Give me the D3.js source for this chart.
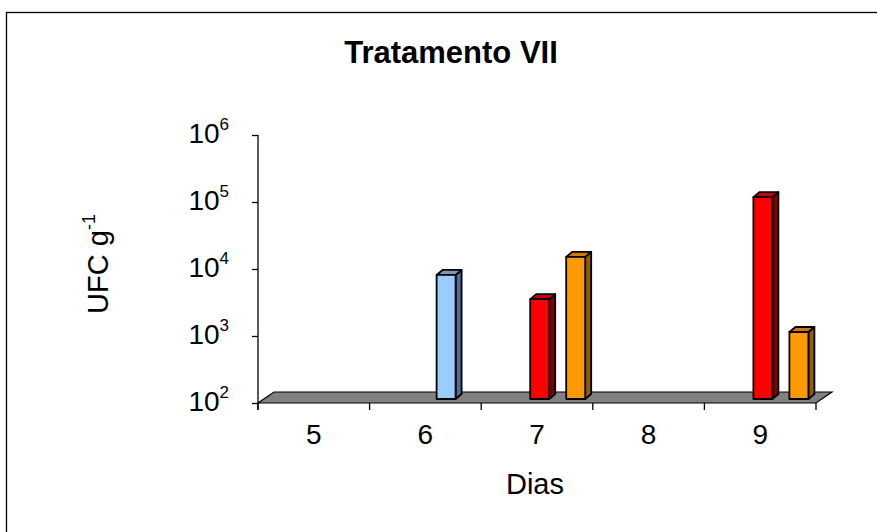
<!DOCTYPE html>
<html>
<head>
<meta charset="utf-8">
<script src="https://cdn.jsdelivr.net/npm/d3@7"></script>
<style>
  html, body { margin: 0; padding: 0; background: #fff; }
  svg { display: block; font-family: "Liberation Sans", Arial, sans-serif; }
</style>
</head>
<body>
<svg id="chart" width="877" height="532"></svg>
<script>
// Days on the category axis
const categories = ["5", "6", "7", "8", "9"];
// Colony counts (UFC g-1) per day for each series; null = no colony recorded
const seriesRed    = [null, null, 3100, null, 103000];
const seriesBlue   = [null, 7100, null, null, null];
const seriesOrange = [null, null, 13200, null, 1000];
// Decade ticks of the logarithmic axis
const yTickValues = [1e2, 1e3, 1e4, 1e5, 1e6];
const yTickExponents = ["2", "3", "4", "5", "6"];

const title = "Tratamento VII";
const xTitle = "Dias";

const series = [
  { key: "red",    values: seriesRed,    front: "#FF0000", top: "#C80000", side: "#800000" },
  { key: "blue",   values: seriesBlue,   front: "#99CCFF", top: "#7799BB", side: "#526E8C" },
  { key: "orange", values: seriesOrange, front: "#FF9900", top: "#CC7A00", side: "#8F5E00" }
];

const svg = d3.select("#chart");

// Outer chart-area border (runs off the right and bottom edges)
svg.append("rect")
  .attr("x", 6.5).attr("y", 12.5)
  .attr("width", 1000).attr("height", 1000)
  .attr("fill", "none").attr("stroke", "#000").attr("stroke-width", 1.3);

// Plot geometry
const x0 = 258, x1 = 816, yBase = 403, yTop = 135;
const floorDX = 16, floorDY = -11;   // depth of the floor
const barShiftX = 6, barShiftY = -4; // bars sit partway into the floor depth
const barDX = 6, barDY = -5;         // bar depth

const x = d3.scaleBand().domain(categories).range([x0, x1]).padding(0);
const inner = d3.scaleBand().domain(series.map(s => s.key)).range([43, 97]).padding(0);
const y = d3.scaleLog().domain([1e2, 1e6]).range([yBase, yTop]);

// Floor
svg.append("polygon")
  .attr("points", [[x0, yBase], [x1, yBase], [x1 + floorDX, yBase + floorDY], [x0 + floorDX, yBase + floorDY]].map(p => p.join(",")).join(" "))
  .attr("fill", "#808080").attr("stroke", "#000").attr("stroke-width", 1.2);

// Y axis
const yAxis = d3.axisLeft(y).tickValues(yTickValues).tickSize(6).tickFormat(() => "");
const gy = svg.append("g").attr("transform", `translate(${x0},0)`).call(yAxis);
gy.select(".domain").remove();
gy.selectAll(".tick line").attr("stroke", "#000").attr("stroke-width", 1.3);
svg.append("line")
  .attr("x1", x0).attr("x2", x0).attr("y1", yTop).attr("y2", yBase + 7)
  .attr("stroke", "#000").attr("stroke-width", 1.3);

const yLab = svg.append("g");
yTickValues.forEach((v, i) => {
  const t = yLab.append("text")
    .attr("x", 229).attr("y", y(v) + 8)
    .attr("text-anchor", "end")
    .attr("font-size", 28).attr("fill", "#000");
  t.append("tspan").text("10");
  t.append("tspan").attr("dy", -13).attr("font-size", 17).text(yTickExponents[i]);
});

// X axis ticks sit on category boundaries, labels at the centres
const boundaries = categories.map(c => x(c)).concat([x1]);
svg.append("g").selectAll("line").data(boundaries).join("line")
  .attr("x1", d => d).attr("x2", d => d)
  .attr("y1", yBase).attr("y2", yBase + 7)
  .attr("stroke", "#000").attr("stroke-width", 1.3);
svg.append("g").selectAll("text").data(categories).join("text")
  .attr("x", d => x(d) + x.bandwidth() / 2)
  .attr("y", 444)
  .attr("text-anchor", "middle")
  .attr("font-size", 28).attr("fill", "#000")
  .text(d => d);

// 3D bars: front, top and side faces
const bars = [];
series.forEach(s => {
  s.values.forEach((v, i) => {
    if (v == null) return;
    bars.push({ s, cat: categories[i], v });
  });
});
const bw = inner.bandwidth() + 1;
const gb = svg.append("g");
bars.forEach(b => {
  const bx = x(b.cat) + inner(b.s.key) + barShiftX;
  const yb = y(1e2) + barShiftY;
  const yt = y(b.v) + barShiftY;
  const g = gb.append("g").attr("stroke", "#000").attr("stroke-width", 1.8).attr("stroke-linejoin", "round");
  g.append("polygon")
    .attr("points", [[bx + bw, yb], [bx + bw + barDX, yb + barDY], [bx + bw + barDX, yt + barDY], [bx + bw, yt]].map(p => p.join(",")).join(" "))
    .attr("fill", b.s.side);
  g.append("polygon")
    .attr("points", [[bx, yt], [bx + bw, yt], [bx + bw + barDX, yt + barDY], [bx + barDX, yt + barDY]].map(p => p.join(",")).join(" "))
    .attr("fill", b.s.top);
  g.append("rect")
    .attr("x", bx).attr("y", yt).attr("width", bw).attr("height", yb - yt)
    .attr("fill", b.s.front);
});

// Titles
svg.append("text")
  .attr("x", 451).attr("y", 63)
  .attr("text-anchor", "middle")
  .attr("font-size", 31).attr("font-weight", "bold").attr("fill", "#000")
  .text(title);

svg.append("text")
  .attr("x", 535).attr("y", 494)
  .attr("text-anchor", "middle")
  .attr("font-size", 29).attr("fill", "#000")
  .text(xTitle);

const yt = svg.append("text")
  .attr("transform", "translate(108,264) rotate(-90)")
  .attr("text-anchor", "middle")
  .attr("font-size", 29).attr("fill", "#000");
yt.append("tspan").text("UFC g");
yt.append("tspan").attr("dy", -13).attr("font-size", 18).text("-1");
</script>
</body>
</html>
